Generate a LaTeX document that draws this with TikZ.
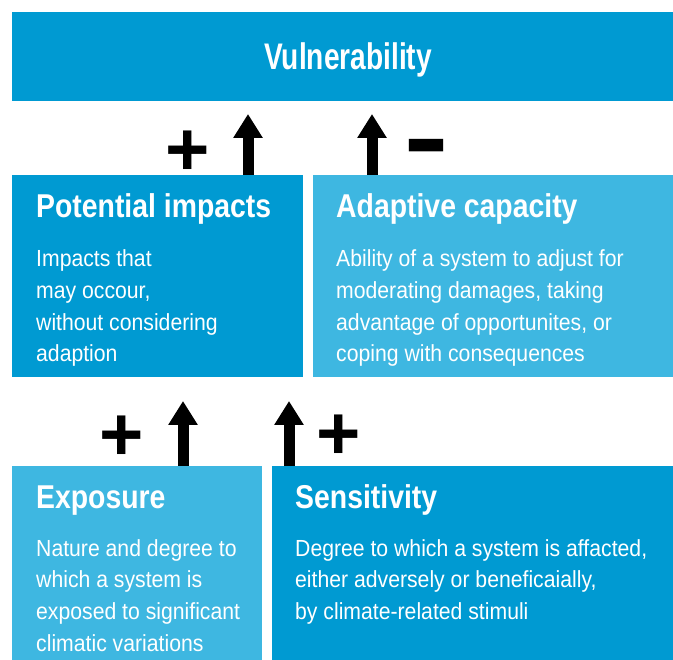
\documentclass[tikz,border=0pt]{standalone}
\usepackage{fontspec}
\setmainfont{Liberation Sans}
\newfontfamily\vulnfont[FakeStretch=0.76]{Liberation Sans}
\newfontfamily\headfont[FakeStretch=0.86]{Liberation Sans}
\newfontfamily\blurbfont[FakeStretch=0.91]{Liberation Sans}
\usepackage{tikz}
\usetikzlibrary{arrows.meta}

\definecolor{darkblue}{RGB}{0,154,210}
\definecolor{lightblue}{RGB}{62,183,225}

\tikzset{
    panel/.style={anchor=north west, inner sep=0pt, minimum height=#1},
    darkpanel/.style={panel=#1, fill=darkblue},
    lightpanel/.style={panel=#1, fill=lightblue},
    heading/.style={anchor=base west, inner sep=0pt, text=white,
        font=\headfont\bfseries\fontsize{33}{36}\selectfont},
    % base of a multi-line node sits on its last line
    blurb/.style={anchor=base west, inner sep=0pt, text=white, align=left,
        font=\blurbfont\fontsize{23.3}{31.7}\selectfont},
    uparrow/.style={line width=11pt, -{Triangle[width=28pt,length=24pt]}},
    sign/.style={inner sep=0pt, font=\bfseries\fontsize{76}{76}\selectfont}
}

\begin{document}
\begin{tikzpicture}[x=1pt,y=-1pt]
\useasboundingbox (0,0) rectangle (673,660);

% top box
\node[darkpanel=89, minimum width=661] (vul) at (12,12) {};
\node[anchor=base, inner sep=0pt, text=white,
    font=\vulnfont\bfseries\fontsize{37}{40}\selectfont]
    (vultitle) at ([shift={(336,58)}]vul.north west) {Vulnerability};

% middle row
\node[darkpanel=202, minimum width=291] (pot) at (12,175) {};
\node[lightpanel=202, minimum width=360] (adp) at (313,175) {};

\node[heading] (pottitle) at ([shift={(24,43)}]pot.north west) {Potential impacts};
\node[blurb] (pottext) at ([shift={(24,186.8)}]pot.north west)
    {Impacts that\\may occour,\\without considering\\adaption};

\node[heading] (adptitle) at ([shift={(23,43)}]adp.north west) {Adaptive capacity};
\node[blurb] (adptext) at ([shift={(23,186.8)}]adp.north west)
    {Ability of a system to adjust for\\moderating damages, taking\\advantage of opportunites, or\\coping with consequences};

% bottom row
\node[lightpanel=194, minimum width=250] (exp) at (12,466) {};
\node[darkpanel=194, minimum width=401] (sen) at (272,466) {};

\node[heading] (exptitle) at ([shift={(24,43)}]exp.north west) {Exposure};
\node[blurb] (exptext) at ([shift={(24,185.1)}]exp.north west)
    {Nature and degree to\\which a system is\\exposed to significant\\climatic variations};

\node[heading] (sentitle) at ([shift={(23,43)}]sen.north west) {Sensitivity};
\node[blurb] (sentext) at ([shift={(23,153.4)}]sen.north west)
    {Degree to which a system is affacted,\\either adversely or beneficaially,\\by climate-related stimuli};

% arrow ends
\coordinate (a1) at (248,114);
\coordinate (a2) at (372,114);
\coordinate (a3) at (183,401);
\coordinate (a4) at (289,401);

\draw[uparrow] (pot.north -| a1) -- (a1);
\draw[uparrow] (adp.north -| a2) -- (a2);
\draw[uparrow] (exp.north -| a3) -- (a3);
\draw[uparrow] (sen.north -| a4) -- (a4);

% signs
\node[sign] (s1) at (188,153) {+};
\node[sign, xscale=0.9, yscale=1.5] (s2) at (426,161) {\char"2212};
\node[sign] (s3) at (122,438) {+};
\node[sign] (s4) at (339,437) {+};

\end{tikzpicture}
\end{document}
